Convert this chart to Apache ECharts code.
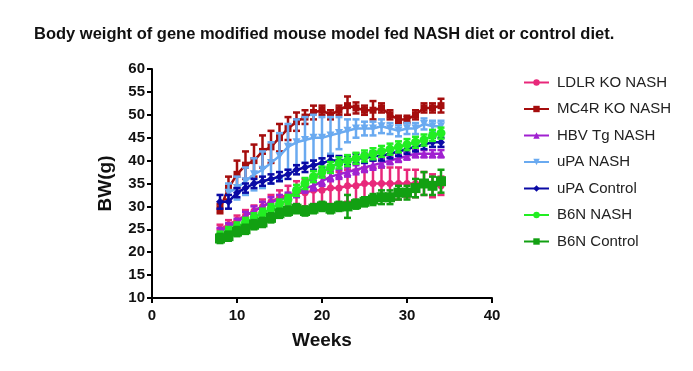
<!DOCTYPE html>
<html>
<head>
<meta charset="utf-8">
<script src="https://cdn.jsdelivr.net/npm/echarts@6/dist/echarts.min.js"></script>
<style>html,body{margin:0;padding:0;background:#fff}#c{width:693px;height:371px}</style>
</head>
<body>
<div id="c"></div>
<script>
var weeks = [8,9,10,11,12,13,14,15,16,17,18,19,20,21,22,23,24,25,26,27,28,29,30,31,32,33,34];
var seriesNames = ['LDLR KO NASH','MC4R KO NASH','HBV Tg NASH','uPA NASH','uPA Control','B6N NASH','B6N Control'];
var ldlr      = [25,26,27,28,29,30,31,32,32.5,33,33,33.5,33.5,34,34,34.5,34.5,35,35,35,35,35,35,35,35,34.5,34.5];
var ldlrErr   = [1,1,1,1.2,1.2,1.5,1.5,1.5,2,2.5,3,3,3,3.5,3.5,3.5,3.5,3.5,3.5,3.5,3.5,3.5,3,3,2.5,2.5,2];
var mc4r      = [29.5,34,37,39,40,42,43,45,47,48.5,49.5,50.5,51,50,51,52,51.5,51,51,51.5,50,49,49,50,51.5,51.5,52];
var mc4rErr   = [1,2.5,3,3,3.5,3.5,3.5,3,2.5,2,1.5,1.5,1,1,1,2,1.2,1,2,1,1,0.8,0.8,1,1,1,1.5];
var hbv       = [24.5,25.5,26.5,28,29,30,31,31.5,32,33,34,34.5,35.5,36.5,37,37.5,38,38.5,39,39.5,40,40.5,41,41.5,41.5,41.5,41.5];
var hbvErr    = [0.8,0.8,0.8,0.8,1,1,1,1,1,1,1,1,1,1,1,1,1,1,1,1,0.8,0.8,0.8,0.8,0.8,0.8,0.8];
var upaNash   = [null,33,34,35.5,37,38,39.5,41,43,44,44.5,45,45,45.5,46,46.5,47,47,47,47.5,47,46.5,47,47,48,47.5,47.5];
var upaNashErr= [0,2,2.5,3,3.5,4,4.5,5,5,5,5,5,4.5,4,3.5,2.5,2,1.5,1.5,1.5,1.2,1.2,1.2,1.2,1.2,1.2,1.2];
var upaCtrl   = [31,31,33,34,35,35.5,36,36.5,37,38,38.5,39,39.5,40,40,40,40.5,40.5,41,41,41.5,42,42.5,43,43.5,44,44];
var upaCtrlErr= [1.5,1.5,1,1,1,1,1,1,1,1,1,1,1,1,1,1,1,1,1,1,1,1,1,1,1,1,1];
var b6nNash   = [23.5,24.5,25.5,26.5,27.5,28.5,29.5,30.5,31.5,33.5,35,36.5,37.5,38.5,39.5,40,40.5,41,41.5,42,42.5,43,43.5,44,44.5,45.5,46];
var b6nNashErr= [1,1,1,1,1,1,1,1,1,1.2,1.2,1.2,1.2,1.2,1.2,1.2,1.2,1.2,1.2,1.2,1.2,1.2,1.2,1.2,1.2,1.2,1.2];
var b6nCtrl   = [23,23.5,24.5,25,26,26.5,27.5,28.5,29,29.5,29,29.5,30,29.5,30,30,30.5,31,31.5,32,32,33,33,34,35,34.5,35.5];
var b6nCtrlErr= [1,1,1,1,1,1,1,1,1,1,1,1,1,1,1,2.5,1,1,1.2,1.5,1.5,1.5,1.5,2,2.5,2,2.5];

var xTicks = [0,10,20,30,40];
var yTicks = [10,15,20,25,30,35,40,45,50,55,60];

var colors = ['#e8287a','#a50d0d','#a020d0','#6aaaf0','#0a0aa5','#22ee22','#12a012'];
var symbols = ['circle','rect','triangle','path://M0,0 L10,0 L5,9 Z','diamond','circle','rect'];
var symSizes = [7,7,8,8,8,9,10];
var values = [ldlr,mc4r,hbv,upaNash,upaCtrl,b6nNash,b6nCtrl];
var errs = [ldlrErr,mc4rErr,hbvErr,upaNashErr,upaCtrlErr,b6nNashErr,b6nCtrlErr];
var fam = 'Liberation Sans, Arial, sans-serif';

var chart = echarts.init(document.getElementById('c'), null, {renderer:'canvas'});
var series = [];
for (var s = 0; s < seriesNames.length; s++) {
  (function(s){
    var errData = [];
    var lineData = [];
    for (var i = 0; i < weeks.length; i++) {
      var v = values[s][i];
      lineData.push([weeks[i], v]);
      if (v != null) errData.push([weeks[i], v - errs[s][i], v + errs[s][i]]);
    }
    series.push({
      type: 'custom',
      name: seriesNames[s] + ' err',
      data: errData,
      z: 2 + s*2,
      silent: true,
      renderItem: function(params, api){
        var x = api.value(0);
        var lo = api.coord([x, api.value(1)]);
        var hi = api.coord([x, api.value(2)]);
        var hw = 3.5;
        var st = {stroke: colors[s], lineWidth: 2.5};
        return {type:'group', children:[
          {type:'line', shape:{x1:lo[0],y1:lo[1],x2:hi[0],y2:hi[1]}, style:st},
          {type:'line', shape:{x1:lo[0]-hw,y1:lo[1],x2:lo[0]+hw,y2:lo[1]}, style:st},
          {type:'line', shape:{x1:hi[0]-hw,y1:hi[1],x2:hi[0]+hw,y2:hi[1]}, style:st}
        ]};
      }
    });
    series.push({
      type: 'line',
      name: seriesNames[s],
      data: lineData,
      z: 3 + s*2,
      color: colors[s],
      symbol: symbols[s],
      symbolSize: symSizes[s],
      showAllSymbol: true,
      connectNulls: false,
      lineStyle: {width: 2.5, color: colors[s]},
      itemStyle: {color: colors[s]},
      animation: false
    });
  })(s);
}

var axisFont = {fontFamily: fam, fontWeight: 'bold', fontSize: 15, color: '#111'};
chart.setOption({
  animation: false,
  title: {
    text: 'Body weight of gene modified mouse model fed NASH diet or control diet.',
    left: 29, top: 21,
    textStyle: {fontFamily: fam, fontWeight: 'bold', fontSize: 16.5, color: '#111'}
  },
  legend: {
    data: seriesNames,
    orient: 'vertical',
    left: 518, top: 70,
    itemGap: 11.5,
    itemWidth: 25, itemHeight: 8,
    textStyle: {fontFamily: fam, fontSize: 15, color: '#222', padding: [0,0,0,3]}
  },
  grid: {left: 152, right: 201, top: 69, bottom: 73, containLabel: false},
  xAxis: {
    type: 'value', min: 0, max: 40, interval: 10,
    name: 'Weeks', nameLocation: 'middle', nameGap: 33,
    nameTextStyle: {fontFamily: fam, fontWeight: 'bold', fontSize: 19, color: '#111'},
    axisLine: {show: true, onZero: false, lineStyle: {color: '#000', width: 2}},
    axisTick: {show: true, inside: false, length: 5, lineStyle: {color: '#000', width: 2}},
    axisLabel: Object.assign({margin: 10, customValues: xTicks}, axisFont),
    splitLine: {show: false}
  },
  yAxis: {
    type: 'value', min: 10, max: 60, interval: 5,
    name: 'BW(g)', nameLocation: 'middle', nameGap: 37, nameRotate: 90,
    nameTextStyle: {fontFamily: fam, fontWeight: 'bold', fontSize: 19, color: '#111'},
    axisLine: {show: true, onZero: false, lineStyle: {color: '#000', width: 2}},
    axisTick: {show: true, inside: false, length: 5, lineStyle: {color: '#000', width: 2}},
    axisLabel: Object.assign({margin: 7}, axisFont),
    splitLine: {show: false}
  },
  series: series
});
</script>
</body>
</html>
